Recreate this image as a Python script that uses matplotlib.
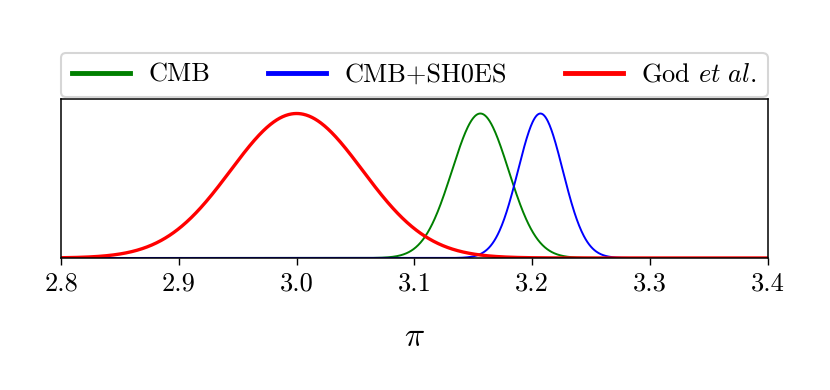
import numpy as np
import matplotlib
matplotlib.use('Agg')
import matplotlib.pyplot as plt

# posterior peaks
labels = ['CMB', 'CMB+SH0ES', r'God $\mathit{et\ al.}$']
means = [3.156, 3.207, 3.0]
sigmas = [0.024, 0.019, 0.056]
colors = ['green', 'blue', 'red']
widths = [1.4, 1.4, 2.4]

xticks = [2.8, 2.9, 3.0, 3.1, 3.2, 3.3, 3.4]

plt.rcParams['font.family'] = 'serif'
plt.rcParams['font.serif'] = ['cmr10']
plt.rcParams['mathtext.fontset'] = 'cm'
plt.rcParams['axes.formatter.use_mathtext'] = True

fig = plt.figure(figsize=(8.3, 3.9), dpi=100)
ax = fig.add_axes([0.0735, 0.3385, 0.8515, 0.4075])

x = np.linspace(2.8, 3.4, 1200)
for lab, m, s, c, w in zip(labels, means, sigmas, colors, widths):
    y = np.exp(-0.5 * ((x - m) / s) ** 2)
    ax.plot(x, y, color=c, lw=w, label=lab)

ax.set_xlim(2.8, 3.4)
ax.set_ylim(0, 1.1)
ax.set_yticks([])
ax.set_xticks(xticks)
ax.set_xticklabels(['%.1f' % t for t in xticks], fontsize=19)
ax.tick_params(axis='x', length=5, width=1, pad=5)
for sp in ax.spines.values():
    sp.set_linewidth(1.1)
ax.set_xlabel(r'$\pi$', fontsize=24, labelpad=20)

leg = ax.legend(bbox_to_anchor=(0, 1.01, 1, 0.2), loc='lower left', mode='expand',
                ncol=3, borderaxespad=0, handlelength=2.2, handletextpad=0.7,
                frameon=True, fontsize=19)
for line in leg.get_lines():
    line.set_linewidth(3.5)
leg.get_frame().set_linewidth(1.5)

plt.savefig('out.png', dpi=100)
